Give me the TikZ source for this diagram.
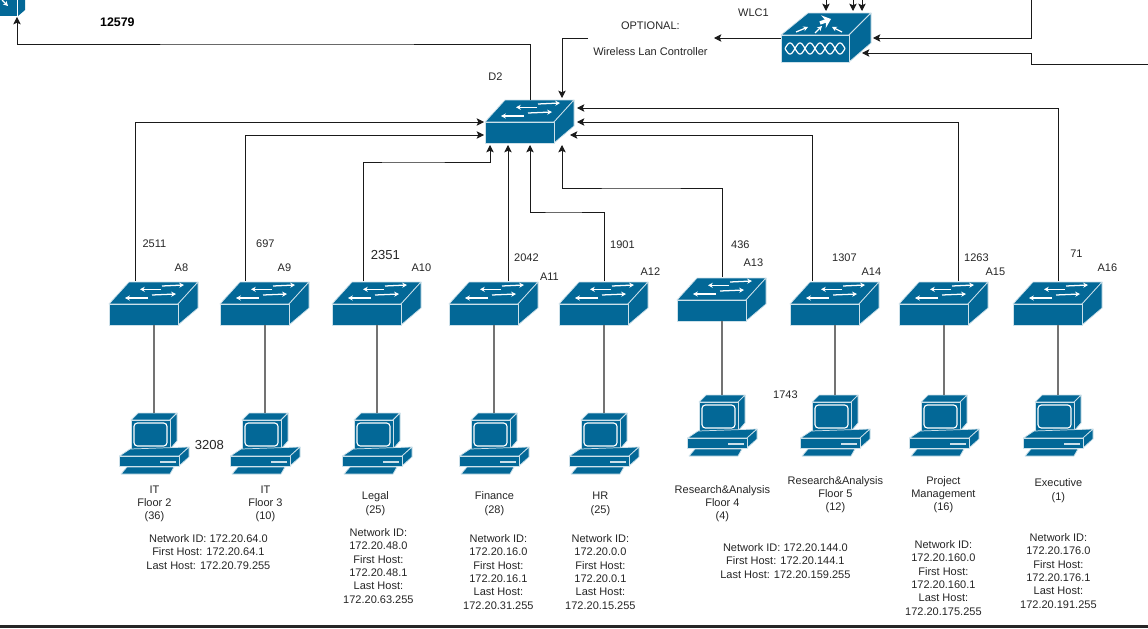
\documentclass[tikz,border=0pt]{standalone}
\usepackage{fontspec}
\setmainfont{Liberation Sans}
\usetikzlibrary{arrows.meta,calc}
\definecolor{cisco}{HTML}{036897}
\definecolor{ink}{HTML}{1A1A1A}
\tikzset{
  x=0.75pt,y=-0.75pt,
  iconbody/.style={fill=cisco,draw=white!80!cisco,line width=0.55pt,line join=round},
  whitearrow/.style={draw=white,line width=0.95pt,-{Stealth[length=3.6pt,width=3.8pt]}},
  switchbox/.style={inner sep=0pt,outer sep=0pt,minimum width=67.5pt,minimum height=33pt},
  wlcbox/.style={inner sep=0pt,outer sep=0pt,minimum width=67.5pt,minimum height=36.75pt},
  pcbox/.style={inner sep=0pt,outer sep=0pt,minimum width=51pt,minimum height=45.75pt},
  link/.style={draw=ink,line width=0.75pt,-{Stealth[length=5.5pt,width=5.6pt,inset=1.2pt]}},
  drop/.style={draw=black!55,line width=1.1pt},
  txt/.style={inner sep=0pt,outer sep=0pt,align=center,text=black!85,xshift=0.3pt,yshift=-0.6pt,font=\fontsize{8.25}{10}\selectfont},
  bigtxt/.style={txt,font=\fontsize{9.8}{11}\selectfont},
  boldtxt/.style={txt,text=black,font=\fontsize{9.3}{11}\selectfont\bfseries}
}
% name, x of the front face's left edge, y of its bottom edge
\newcommand{\netswitch}[3]{%
  \node[switchbox] (#1) at (#2+45,#3-22) {};
  \begin{scope}[shift={(#2,#3)}]
    \draw[iconbody] (0,-21) -- (20,-43) -- (89,-43) -- (69,-21) -- cycle;
    \draw[iconbody] (69,-21) -- (89,-43) -- (89,-17) -- (69,0) -- cycle;
    \draw[iconbody] (0,-21) rectangle (69,0);
    \draw[whitearrow] (52,-35.7) -- (31,-35.7);
    \draw[whitearrow] (53,-39) -- (75,-40);
    \draw[whitearrow] (43,-30) -- (67,-31);
    \draw[whitearrow] (39,-27) -- (16,-27);
  \end{scope}}
% name, left edge, top edge
\newcommand{\netpc}[3]{%
  \node[pcbox] (#1) at (#2+34,#3+30.5) {};
  \begin{scope}[shift={(#2,#3)}]
    \draw[iconbody] (11,7) -- (18,0) -- (57,0) -- (50,7) -- cycle;
    \draw[iconbody] (50,7) -- (57,0) -- (57,28) -- (50,36) -- cycle;
    \draw[iconbody] (11,7) rectangle (50,36);
    \draw[fill=cisco,draw=white,line width=0.85pt,rounded corners=2.5pt] (14,10) rectangle (47,33);
    \draw[iconbody] (-0.5,43) -- (10,36) -- (69,34) -- (59,43) -- cycle;
    \draw[iconbody] (59,43) -- (69,34) -- (69,44) -- (59,53) -- cycle;
    \draw[iconbody] (-0.5,43) rectangle (59,53);
    \fill[white,opacity=.8] (40,47.5) rectangle (56,50);
    \draw[iconbody] (1,61) -- (7,54) -- (54,54) -- (50,61) -- cycle;
  \end{scope}}
\begin{document}
\begin{tikzpicture}
\useasboundingbox (0,0) rectangle (1148,628);
\fill[white] (0,0) rectangle (1148,628);
\fill[black!85] (0,625) rectangle (1148,628);

% partly visible device in the corner
\node[inner sep=0pt,outer sep=0pt,minimum width=18.75pt,minimum height=12pt] (R1) at (12.5,8) {};
\fill[cisco] (0,0) rectangle (17,16);
\fill[cisco] (18,0) -- (25,0) -- (25,10) -- (18,16) -- cycle;
\draw[whitearrow] (2,0) -- (8,6);

% WLC
\node[wlcbox] (WLC1) at (826,37.5) {};
\begin{scope}[shift={(781,62)}]
  \draw[iconbody] (0,-27) -- (27,-49) -- (90,-49) -- (68,-27) -- cycle;
  \draw[iconbody] (68,-27) -- (90,-49) -- (90,-19) -- (68,0) -- cycle;
  \draw[iconbody] (0,-27) rectangle (68,0);
  \draw[white,line width=0.9pt] plot[domain=4:64,samples=121,smooth] ({\x},{-13.5+5.5*sin((\x-4)*18)});
  \draw[white,line width=0.9pt] plot[domain=4:64,samples=121,smooth] ({\x},{-13.5-5.5*sin((\x-4)*18)});
  \draw[draw=white,line width=2.6pt,-{Stealth[length=6pt,width=10pt]}] (39,-39) -- (50,-43);
  \draw[whitearrow] (15,-30) -- (27,-35);
  \draw[whitearrow] (34,-29) -- (41,-36);
  \draw[whitearrow] (61,-30) -- (51,-35);
\end{scope}

% switches
\netswitch{D2}{485}{143}
\netswitch{A8}{109}{325}
\netswitch{A9}{220}{325}
\netswitch{A10}{332}{325}
\netswitch{A11}{449}{325}
\netswitch{A12}{559}{325}
\netswitch{A13}{677}{321}
\netswitch{A14}{790}{325}
\netswitch{A15}{899}{325}
\netswitch{A16}{1013}{325}

% computers
\netpc{P8}{120}{413}
\netpc{P9}{231}{413}
\netpc{P10}{343}{413}
\netpc{P11}{460}{413}
\netpc{P12}{570}{413}
\netpc{P13}{688}{395}
\netpc{P14}{801}{395}
\netpc{P15}{910}{395}
\netpc{P16}{1024}{395}

% ports and free ends
\coordinate (D2w1) at (484,122);
\coordinate (D2w2) at (484,135);
\coordinate (D2s1) at (490,145);
\coordinate (D2s2) at (508,145);
\coordinate (D2s3) at (530,145);
\coordinate (D2s4) at (562,145);
\coordinate (D2e1) at (577,108);
\coordinate (D2e2) at (577,122);
\coordinate (D2e3) at (570,135);
\coordinate (D2n) at (562,98);
\coordinate (R1s) at (17,17);
\coordinate (OptEnd) at (588,38);
\coordinate (OptTip) at (714,38);
\coordinate (WLCe1) at (873,38);
\coordinate (WLCe2) at (862,53);
\coordinate (WLCt1) at (826,11);
\coordinate (WLCt2) at (853,11);
\coordinate (WLCt3) at (862,11);
\coordinate (TopA) at (826,0);
\coordinate (TopB) at (853,0);
\coordinate (TopC) at (862,0);
\coordinate (RightA) at (1031,0);
\coordinate (RightB) at (1148,64);

% drops
\foreach \s/\p in {A8/P8,A9/P9,A10/P10,A11/P11,A12/P12,A13/P13,A14/P14,A15/P15,A16/P16}
  \draw[drop] (\s.south) -- (\p.north);

% uplinks
\draw[link] ($(A8.north west)+(26,0)$) |- (D2w1);
\draw[link] ($(A9.north west)+(25,0)$) |- (D2w2);
\draw[link] ($(A10.north west)+(31,0)$) |- (400,162) -| (D2s1);
\draw[link] ($(A11.north west)+(59,0)$) -- (D2s2);
\draw[link] (A12.north) |- (560,212) -| (D2s3);
\draw[link] (A13.north) |- (640,188) -| (D2s4);
\draw[link] ($(A14.north west)+(22,0)$) |- (D2e3);
\draw[link] ($(A15.north west)+(59,0)$) |- (D2e2);
\draw[link] (A16.north) |- (D2e1);

% top links
\draw[link] ($(D2.north west)+(45,1)$) |- (300,44) -| (R1s);
\draw[link] (OptEnd) -| (D2n);
\draw[link] ($(WLC1.west)+(0,0.5)$) -- (OptTip);
\draw[link] (RightA) |- (WLCe1);
\draw[link] (RightB) -| (1031,53) -- (WLCe2);
\draw[link] (TopA) -- (WLCt1);
\draw[link] (TopB) -- (WLCt2);
\draw[link] (TopC) -- (WLCt3);

% labels
\node[boldtxt] (t1) at (117,21) {12579};
\node[txt] (t2) at (495,76) {D2};
\node[txt] (t3) at (753,12) {WLC1};
\node[txt] (t4) at (650,25) {OPTIONAL:};
\node[txt] (t5) at (650,51) {Wireless Lan Controller};

\node[txt] (n1) at (154,243) {2511};
\node[txt] (n2) at (265,243) {697};
\node[bigtxt] (n3) at (385,254) {2351};
\node[txt] (n4) at (526,257) {2042};
\node[txt] (n5) at (622,244) {1901};
\node[txt] (n6) at (740,244) {436};
\node[txt] (n7) at (844,257) {1307};
\node[txt] (n8) at (976,257) {1263};
\node[txt] (n9) at (1076,253) {71};
\node[bigtxt] (n10) at (209,444) {3208};
\node[txt] (n11) at (785,394) {1743};

\node[txt] (a8) at (181,267) {A8};
\node[txt] (a9) at (284,267) {A9};
\node[txt] (a10) at (421,267) {A10};
\node[txt] (a11) at (549,276) {A11};
\node[txt] (a12) at (650,271) {A12};
\node[txt] (a13) at (753,262) {A13};
\node[txt] (a14) at (871,271) {A14};
\node[txt] (a15) at (995,271) {A15};
\node[txt] (a16) at (1107,267) {A16};

\node[txt] (d1) at (154,503) {IT\\Floor 2\\(36)};
\node[txt] (d2) at (265,503) {IT\\Floor 3\\(10)};
\node[txt] (d3) at (375,503) {Legal\\(25)};
\node[txt] (d4) at (494,503) {Finance\\(28)};
\node[txt] (d5) at (600,503) {HR\\(25)};
\node[txt] (d6) at (722,503) {Research\&Analysis\\Floor 4\\(4)};
\node[txt] (d7) at (835,494) {Research\&Analysis\\Floor 5\\(12)};
\node[txt] (d8) at (943,494) {Project\\Management\\(16)};
\node[txt] (d9) at (1058,490) {Executive\\(1)};

\node[txt] (i1) at (208,551) {Network ID: 172.20.64.0\\First Host: 172.20.64.1\\Last Host: 172.20.79.255};
\node[txt] (i2) at (378,565) {Network ID:\\172.20.48.0\\First Host:\\172.20.48.1\\Last Host:\\172.20.63.255};
\node[txt] (i3) at (498,571) {Network ID:\\172.20.16.0\\First Host:\\172.20.16.1\\Last Host:\\172.20.31.255};
\node[txt] (i4) at (600,571) {Network ID:\\172.20.0.0\\First Host:\\172.20.0.1\\Last Host:\\172.20.15.255};
\node[txt] (i5) at (785,560) {Network ID: 172.20.144.0\\First Host: 172.20.144.1\\Last Host: 172.20.159.255};
\node[txt] (i6) at (943,577) {Network ID:\\172.20.160.0\\First Host:\\172.20.160.1\\Last Host:\\172.20.175.255};
\node[txt] (i7) at (1058,570) {Network ID:\\172.20.176.0\\First Host:\\172.20.176.1\\Last Host:\\172.20.191.255};
\end{tikzpicture}
\end{document}
